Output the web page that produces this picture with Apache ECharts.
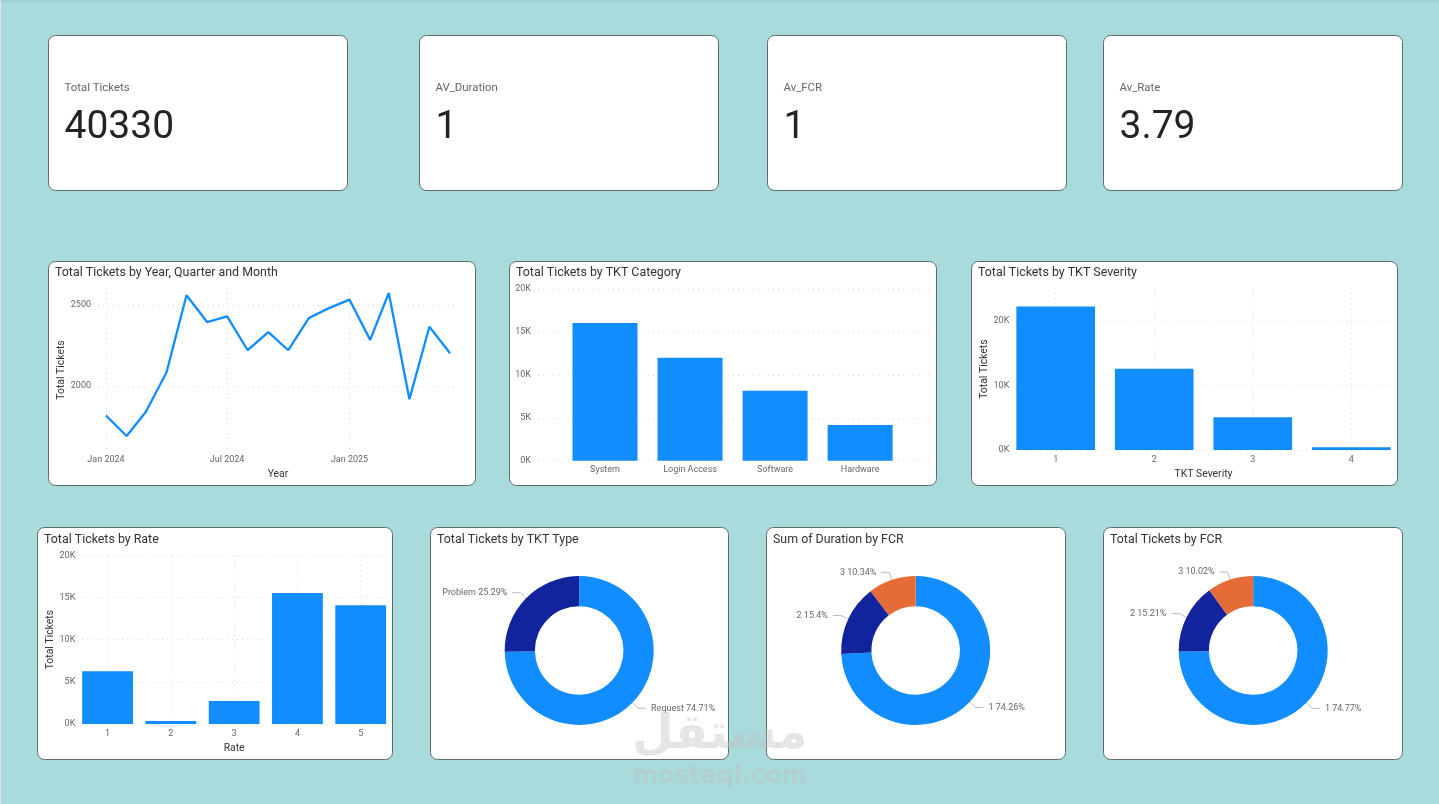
<!DOCTYPE html>
<html>
<head>
<meta charset="utf-8">
<title>Tickets dashboard</title>
<script src="https://cdn.jsdelivr.net/npm/echarts@6/dist/echarts.min.js"></script>
<style>
  html, body { margin: 0; padding: 0; background: #a9dbdc; }
  #main { width: 1439px; height: 804px; }
</style>
</head>
<body>
<div id="main"></div>
<script>
const kpiLabels = ["Total Tickets", "AV_Duration", "Av_FCR", "Av_Rate"];
const kpiValues = ["40330", "1", "1", "3.79"];

const monthDates = ["2024-01-01", "2024-02-01", "2024-03-01", "2024-04-01", "2024-05-01", "2024-06-01",
  "2024-07-01", "2024-08-01", "2024-09-01", "2024-10-01", "2024-11-01", "2024-12-01",
  "2025-01-01", "2025-02-01", "2025-03-01", "2025-04-01", "2025-05-01", "2025-06-01"];
const monthTickets = [1818, 1692, 1841, 2085, 2560, 2395, 2430, 2221, 2333, 2221, 2420, 2481,
  2533, 2285, 2574, 1919, 2366, 2202];
const monthTicks = ["2024-01-01", "2024-07-01", "2025-01-01"];
const monthTickLabels = ["Jan 2024", "Jul 2024", "Jan 2025"];

const categoryNames = ["System", "Login Access", "Software", "Hardware"];
const categoryTickets = [16050, 11980, 8150, 4150];

const severityNames = ["1", "2", "3", "4"];
const severityTickets = [22250, 12600, 5060, 420];

const rateNames = ["1", "2", "3", "4", "5"];
const rateTickets = [6250, 360, 2730, 15530, 14070];

const typeNames = ["Request", "Problem"];
const typeShares = [74.71, 25.29];

const durationFcrNames = ["1", "2", "3"];
const durationFcrShares = [74.26, 15.4, 10.34];

const ticketFcrNames = ["1", "2", "3"];
const ticketFcrShares = [74.77, 15.21, 10.02];

const BLUE = "#118dff";
const NAVY = "#12239e";
const ORANGE = "#e66c37";
const FONT = "Roboto";
const GRID_LINE = { show: true, lineStyle: { color: "#d9d9d9", type: [1, 4], width: 1 } };

const chart = echarts.init(document.getElementById("main"));

const titles = [];
const cards = [];
const grids = [];
const xAxes = [];
const yAxes = [];
const series = [];

function addCard(x, y, w, h) {
  cards.push({
    type: "rect",
    z: -1,
    shape: { x: x - 0.5, y: y - 0.5, width: w + 1, height: h + 1, r: 7 },
    style: { fill: "#fff", stroke: "#5c6b6b", lineWidth: 1 }
  });
}

function addText(text, x, y, size, color, weight, family) {
  titles.push({
    text: text,
    left: x,
    top: y,
    padding: 0,
    textStyle: { fontFamily: family || FONT, fontSize: size, fontWeight: weight || "normal", color: color }
  });
}

function kilo(v) {
  return v / 1000 + "K";
}

// y axis shared by all the cartesian panels
function valueAxis(index, min, max, ticks, formatter, name, nameGap) {
  return {
    type: "value",
    gridIndex: index,
    min: min,
    max: max,
    name: name,
    nameLocation: "middle",
    nameGap: nameGap,
    nameTextStyle: { fontFamily: FONT, fontSize: 10.4, color: "#333" },
    axisLine: { show: false },
    axisTick: { show: false, customValues: ticks },
    axisLabel: { customValues: ticks, formatter: formatter, fontFamily: FONT, fontSize: 9, color: "#666", margin: 7 },
    splitLine: GRID_LINE
  };
}

// the bars sit on a value axis because the panels pad the bands unevenly
function addBars(box, names, values, xMin, xMax, barWidth, yMax, yTicks, options) {
  const index = grids.length;
  const positions = names.map((n, i) => i + 1);
  grids.push({ left: box.left, top: box.top, width: box.right - box.left, height: box.bottom - box.top });
  xAxes.push({
    type: "value",
    gridIndex: index,
    min: xMin,
    max: xMax,
    name: options.xName,
    nameLocation: "middle",
    nameGap: options.xNameGap,
    nameTextStyle: { fontFamily: FONT, fontSize: 10.4, color: "#333" },
    axisLine: { show: false },
    axisTick: { show: false, customValues: positions },
    axisLabel: {
      customValues: positions,
      formatter: (v) => names[v - 1],
      fontFamily: FONT, fontSize: 9, color: "#666", margin: 5
    },
    splitLine: options.vertical ? GRID_LINE : { show: false }
  });
  yAxes.push(valueAxis(index, 0, yMax, yTicks, kilo, options.yName, options.yNameGap));
  series.push({
    type: "bar",
    xAxisIndex: index,
    yAxisIndex: index,
    barWidth: barWidth,
    itemStyle: { color: BLUE },
    data: values.map((v, i) => [positions[i], v])
  });
}

// timestamps on a value axis, the time axis breaks with custom ticks
function addLine(box) {
  const index = grids.length;
  const tickTimes = monthTicks.map((d) => Date.parse(d));
  grids.push({ left: box.left, top: box.top, width: box.right - box.left, height: box.bottom - box.top });
  xAxes.push({
    type: "value",
    gridIndex: index,
    min: Date.parse("2023-12-20"),
    max: Date.parse("2025-06-13"),
    name: "Year",
    nameLocation: "middle",
    nameGap: 17,
    nameTextStyle: { fontFamily: FONT, fontSize: 10.4, color: "#333" },
    axisLine: { show: false },
    axisTick: { show: false, customValues: tickTimes },
    axisLabel: {
      customValues: tickTimes,
      formatter: (v) => monthTickLabels[tickTimes.indexOf(v)],
      fontFamily: FONT, fontSize: 9, color: "#666", margin: 3
    },
    splitLine: GRID_LINE
  });
  yAxes.push(valueAxis(index, 1593, 2605, [2000, 2500], (v) => String(v), "Total Tickets", 30));
  series.push({
    type: "line",
    xAxisIndex: index,
    yAxisIndex: index,
    showSymbol: false,
    lineStyle: { color: BLUE, width: 2.3 },
    itemStyle: { color: BLUE },
    data: monthDates.map((d, i) => [Date.parse(d), monthTickets[i]])
  });
}

function addDonut(cx, names, shares, colors) {
  series.push({
    type: "pie",
    center: [cx, 650.5],
    radius: [44.3, 74.5],
    startAngle: 90,
    clockwise: true,
    avoidLabelOverlap: false,
    label: { formatter: "{b} {c}%", fontFamily: FONT, fontSize: 9, color: "#666" },
    labelLine: { length: 8, length2: 8, lineStyle: { color: "#bbb", width: 1 } },
    data: names.map((n, i) => ({ name: n, value: shares[i], itemStyle: { color: colors[i] } }))
  });
}

// thin window edges of the screenshot
cards.push({ type: "rect", z: -2, shape: { x: 0, y: 0, width: 1439, height: 2 }, style: { fill: "#9fd0d2" } });
cards.push({ type: "rect", z: -2, shape: { x: 0, y: 0, width: 1, height: 804 }, style: { fill: "#dfe3e3" } });

// KPI row
const kpiX = [49, 420, 768, 1104];
kpiLabels.forEach((label, i) => {
  addCard(kpiX[i], 36, 298, 154);
  addText(label, kpiX[i] + 15.5, 83, 11.4, "#666");
  addText(kpiValues[i], kpiX[i] + 15.5, 109, 39, "#252423");
});

// middle row
addCard(49, 262, 426, 223);
addText("Total Tickets by Year, Quarter and Month", 55, 267, 12.4, "#333");
addLine({ left: 98, right: 458, top: 288, bottom: 452 });

addCard(510, 262, 426, 223);
addText("Total Tickets by TKT Category", 516, 267, 12.4, "#333");
addBars({ left: 538, right: 929, top: 289, bottom: 460.7 }, categoryNames, categoryTickets, 0.212, 4.81, 65,
  20000, [0, 5000, 10000, 15000, 20000], { vertical: false });

addCard(972, 262, 425, 223);
addText("Total Tickets by TKT Severity", 978, 267, 12.4, "#333");
addBars({ left: 1016.3, right: 1390.7, top: 288.3, bottom: 450 }, severityNames, severityTickets, 0.6, 4.4, 78.7,
  25070, [0, 10000, 20000], { vertical: true, xName: "TKT Severity", xNameGap: 19, yName: "Total Tickets", yNameGap: 27 });

// bottom row
addCard(38, 528, 354, 231);
addText("Total Tickets by Rate", 44, 534, 12.4, "#333");
addBars({ left: 82.3, right: 386, top: 555.3, bottom: 724 }, rateNames, rateTickets, 0.6, 5.4, 50.8,
  20000, [0, 5000, 10000, 15000, 20000], { vertical: true, xName: "Rate", xNameGap: 19, yName: "Total Tickets", yNameGap: 25 });

addCard(431, 528, 297, 231);
addText("Total Tickets by TKT Type", 437, 534, 12.4, "#333");
addDonut(579.2, typeNames, typeShares, [BLUE, NAVY]);

addCard(767, 528, 298, 231);
addText("Sum of Duration by FCR", 773, 534, 12.4, "#333");
addDonut(915.7, durationFcrNames, durationFcrShares, [BLUE, NAVY, ORANGE]);

addCard(1104, 528, 298, 231);
addText("Total Tickets by FCR", 1110, 534, 12.4, "#333");
addDonut(1253.2, ticketFcrNames, ticketFcrShares, [BLUE, NAVY, ORANGE]);

// site stamp over the bottom of the picture
addText("مستقل", 632, 712, 48, "rgba(190,190,190,0.4)", "bold", "DejaVu Sans");
addText("mostaql.com", 633, 765, 24, "rgba(190,190,190,0.4)", "bold", "DejaVu Sans");

chart.setOption({
  animation: false,
  backgroundColor: "#a9dbdc",
  title: titles,
  graphic: { elements: cards },
  tooltip: {},
  grid: grids,
  xAxis: xAxes,
  yAxis: yAxes,
  series: series
});
</script>
</body>
</html>
